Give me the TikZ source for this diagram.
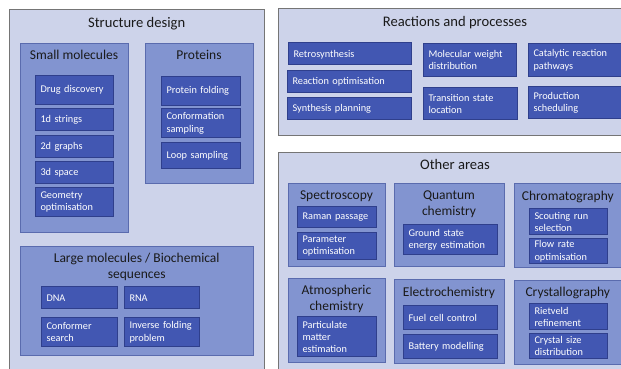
\documentclass[tikz,border=0pt]{standalone}
\usepackage{fontspec}
\setmainfont{Carlito}
\definecolor{areafill}{HTML}{CDD3EA}
\definecolor{arealine}{HTML}{757575}
\definecolor{groupfill}{HTML}{8294D0}
\definecolor{groupline}{HTML}{5A6BAE}
\definecolor{itemfill}{HTML}{4257B2}
\definecolor{itemline}{HTML}{2F3F8C}
\definecolor{headtext}{HTML}{1A1A1A}
% item labels never break inside a word
\hyphenpenalty=10000
\exhyphenpenalty=10000

% framed panel: style, name, x1, y1, x2, y2
\newcommand\panelbox[6]{%
  \pgfmathsetmacro\pbw{#5-#3}\pgfmathsetmacro\pbh{#6-#4}%
  \node[#1, minimum width=\pbw pt, minimum height=\pbh pt] (#2) at ({(#3+#5)/2},{(#4+#6)/2}) {};}
% item box with left-aligned text: name, x1, y1, x2, y2, text
\newcommand\itembox[6]{%
  \pgfmathsetmacro\pbw{#4-#2}\pgfmathsetmacro\pbh{#5-#3}\pgfmathsetmacro\ptw{#4-#2-11}%
  \node[itembg, minimum width=\pbw pt, minimum height=\pbh pt] (#1) at ({(#2+#4)/2},{(#3+#5)/2}) {};
  \node[itemtext, text width=\ptw pt] (#1T) at ([yshift=-0.8pt]#1.center) {#6};}

\begin{document}
\begin{tikzpicture}[x=1pt,y=-1pt,
  area/.style={draw=arealine, fill=areafill, line width=1pt, inner sep=0pt, outer sep=0pt},
  group/.style={draw=groupline, fill=groupfill, line width=0.8pt, inner sep=0pt, outer sep=0pt},
  itembg/.style={draw=itemline, fill=itemfill, line width=0.8pt, inner sep=0pt, outer sep=0pt},
  itemtext/.style={text=white, font=\fontsize{10.3}{12.2}\selectfont, align=left, inner sep=0pt},
  areahead/.style={font=\fontsize{14.6}{16}\selectfont, text=headtext, anchor=base, align=center, inner sep=0pt},
  grouphead/.style={font=\fontsize{13.5}{16.5}\selectfont, text=headtext, anchor=base, align=center, inner sep=0pt}]
\useasboundingbox (0,0) rectangle (621,369);
\clip (0,0) rectangle (621,369);

% ---- Structure design ----
\panelbox{area}{structure}{9.5}{10}{264}{385}
\node[areahead] (structureT) at (136.7,27.7) {Structure design};

\panelbox{group}{small}{20}{43}{128}{232}
\node[grouphead] (smallT) at (74,59.3) {Small molecules};
\itembox{drug}{35}{75}{113}{104}{Drug discovery}
\itembox{strings}{35}{108}{113}{130}{1d strings}
\itembox{graphs}{35}{135}{113}{157}{2d graphs}
\itembox{space}{35}{161}{113}{183}{3d space}
\itembox{geom}{35}{187}{113}{216}{Geometry\\optimisation}

\panelbox{group}{proteins}{145}{43}{253}{183}
\node[grouphead] (proteinsT) at (199,59.3) {Proteins};
\itembox{folding}{161}{76}{240}{105}{Protein folding}
\itembox{conform}{161}{108}{240}{137}{Conformation\\sampling}
\itembox{loop}{161}{142}{240}{168}{Loop sampling}

\panelbox{group}{large}{20}{246}{253}{355}
\node[grouphead] (largeT) at (136.7,278.7) {Large molecules / Biochemical\\sequences};
\itembox{dna}{41}{286}{117}{308}{DNA}
\itembox{rna}{124}{286}{199}{308}{RNA}
\itembox{conformer}{41}{317}{117}{346}{Conformer\\search}
\itembox{inverse}{124}{317}{199}{346}{Inverse folding\\problem}

% ---- Reactions and processes ----
\panelbox{area}{reactions}{278.5}{9}{632}{135}
\node[areahead] (reactionsT) at (455,26.7) {Reactions and processes};
\itembox{retro}{288}{42.5}{411}{64.7}{Retrosynthesis}
\itembox{reacopt}{287}{70}{411}{92}{Reaction optimisation}
\itembox{synth}{287}{97}{411}{119}{Synthesis planning}
\itembox{molwt}{423}{43}{516}{76}{Molecular weight\\distribution}
\itembox{trans}{423}{87}{517}{119}{Transition state\\location}
\itembox{catal}{528}{43}{626}{76}{Catalytic reaction\\pathways}
\itembox{prod}{528}{86}{626}{118}{Production\\scheduling}

% ---- Other areas ----
\panelbox{area}{other}{278.5}{152}{632}{385}
\node[areahead] (otherT) at (455,169) {Other areas};

\panelbox{group}{spectro}{288}{183}{385}{266}
\node[grouphead] (spectroT) at (336.5,199.3) {Spectroscopy};
\itembox{raman}{297}{206}{376}{227}{Raman passage}
\itembox{param}{297}{232}{376}{259}{Parameter\\optimisation}

\panelbox{group}{quantum}{394}{183}{504}{266}
\node[grouphead] (quantumT) at (449,215.7) {Quantum\\chemistry};
\itembox{ground}{403}{224}{497}{254}{Ground state\\energy estimation}

\panelbox{group}{chroma}{514}{183}{623}{267}
\node[grouphead] (chromaT) at (567.8,200.7) {Chromatography};
\itembox{scout}{529}{208}{607}{234}{Scouting run\\selection}
\itembox{flow}{529}{238}{607}{263}{Flow rate\\optimisation}

\panelbox{group}{atmos}{288}{278}{385}{362}
\node[grouphead] (atmosT) at (336.5,310.7) {Atmospheric\\chemistry};
\itembox{partic}{297}{316}{376}{356}{Particulate\\matter\\estimation}

\panelbox{group}{electro}{394}{279}{504}{363}
\node[grouphead] (electroT) at (449,296) {Electrochemistry};
\itembox{fuel}{403}{305}{497}{329}{Fuel cell control}
\itembox{battery}{403}{334}{497}{358}{Battery modelling}

\panelbox{group}{crystal}{514}{280}{623}{364}
\node[grouphead] (crystalT) at (567.8,296) {Crystallography};
\itembox{rietveld}{529}{303}{607}{329}{Rietveld\\refinement}
\itembox{csize}{529}{333}{607}{358}{Crystal size\\distribution}
\end{tikzpicture}
\end{document}
